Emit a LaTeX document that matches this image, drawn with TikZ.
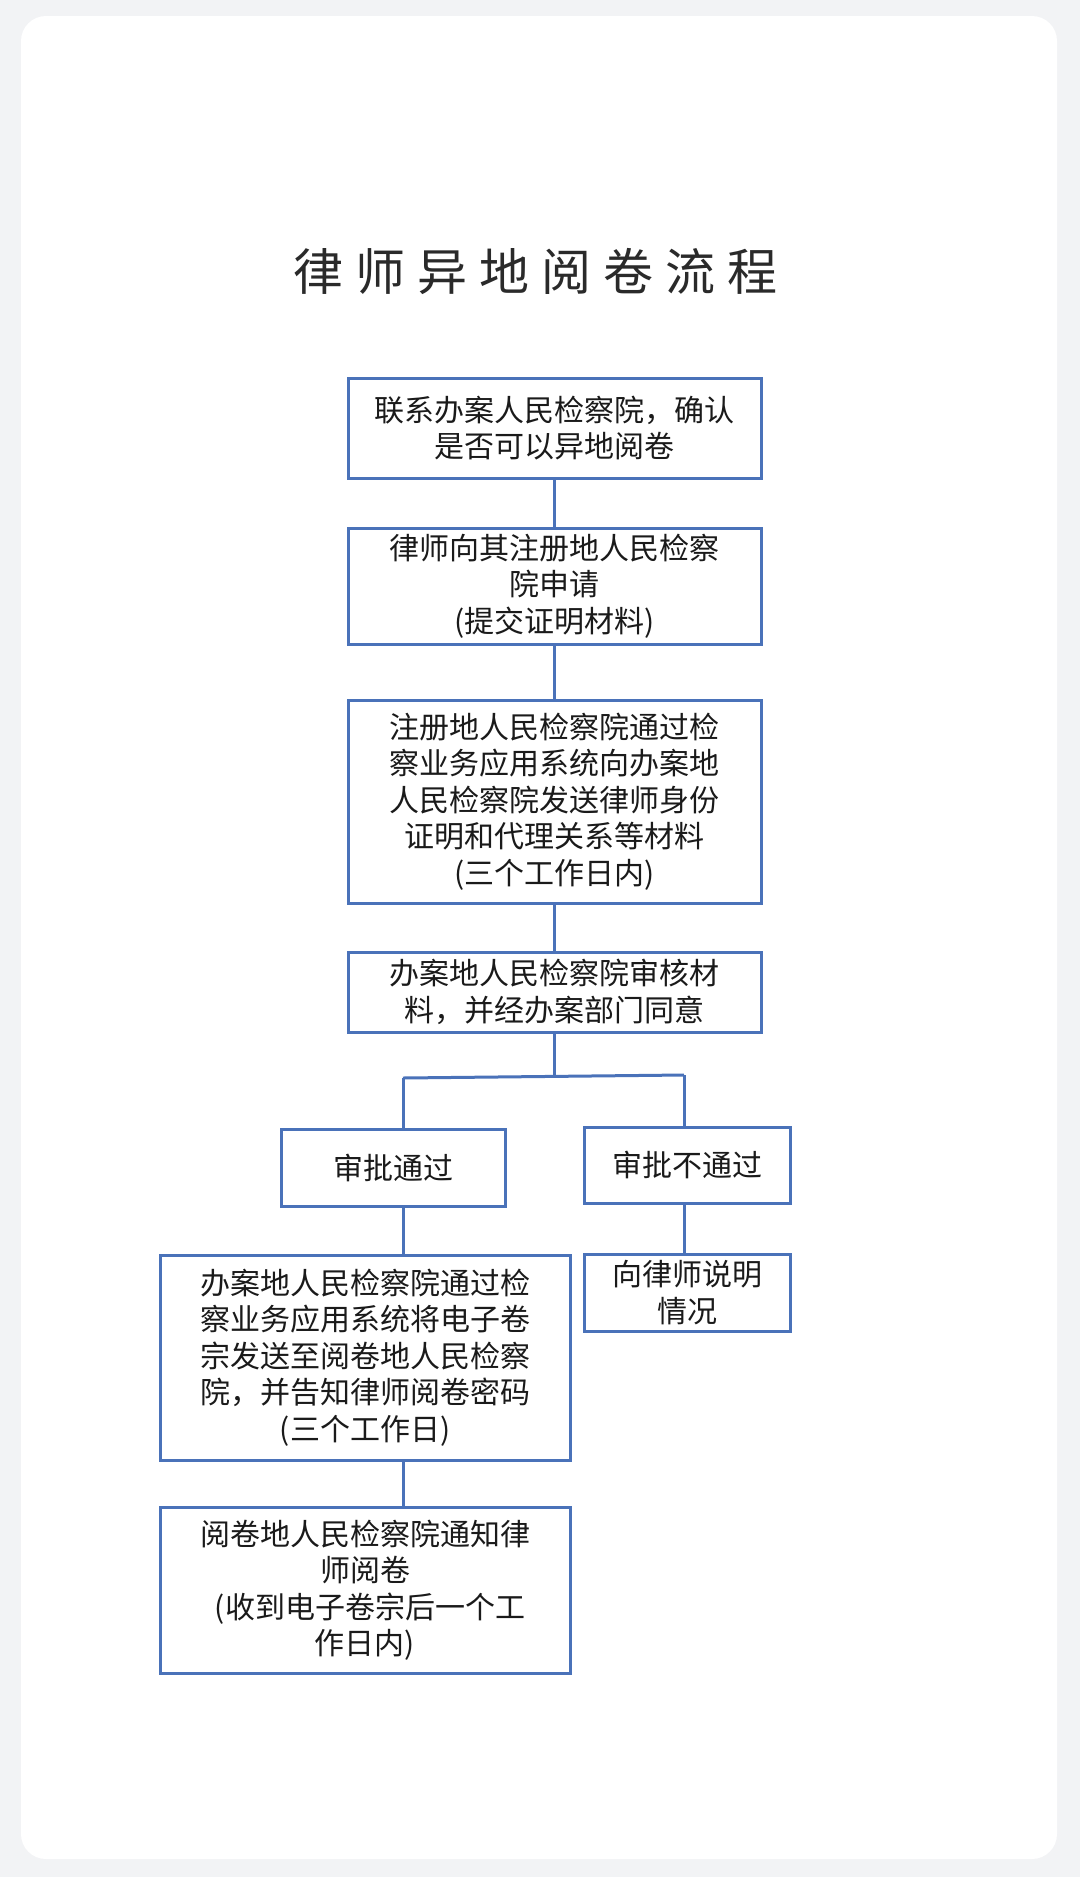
\documentclass[tikz,border=0pt]{standalone}
\usepackage{fontspec}
\setmainfont{Noto Sans CJK SC}
\newfontfamily\cjkfont{Noto Sans CJK SC}
\definecolor{bggray}{HTML}{F2F3F5}
\definecolor{boxblue}{RGB}{74,114,185}
\definecolor{textdark}{HTML}{1A1A1A}
\definecolor{titledark}{HTML}{2A2A2A}
\tikzset{
  flowbox/.style={draw=boxblue, line width=3pt, fill=white, inner sep=0pt, align=center,
    font=\cjkfont\fontsize{30}{36.5}\selectfont, text=textdark},
  link/.style={draw=boxblue, line width=3pt}
}
\begin{document}
\begin{tikzpicture}[x=1pt,y=-1pt]
\useasboundingbox (0,0) rectangle (1080,1877);
\fill[bggray] (0,0) rectangle (1080,1877);
\fill[white, rounded corners=25pt] (21,16) rectangle (1057,1859);

\node[font=\cjkfont\fontsize{50}{60}\selectfont, text=titledark, inner sep=0pt] (title) at (535,271)
  {律\hspace{12pt}师\hspace{12pt}异\hspace{12pt}地\hspace{12pt}阅\hspace{12pt}卷\hspace{12pt}流\hspace{12pt}程};

\node[flowbox, minimum width=413pt, minimum height=100pt] (b1) at (554.5,428)
  {联系办案人民检察院，确认\\是否可以异地阅卷};
\node[flowbox, minimum width=413pt, minimum height=116pt] (b2) at (554.5,586)
  {律师向其注册地人民检察\\院申请\\(提交证明材料)};
\node[flowbox, minimum width=413pt, minimum height=203pt] (b3) at (554.5,801.5)
  {注册地人民检察院通过检\\察业务应用系统向办案地\\人民检察院发送律师身份\\证明和代理关系等材料\\(三个工作日内)};
\node[flowbox, minimum width=413pt, minimum height=80pt] (b4) at (554.5,992)
  {办案地人民检察院审核材\\料，并经办案部门同意};
\node[flowbox, minimum width=224pt, minimum height=77pt] (b5) at (393,1167.5)
  {审批通过};
\node[flowbox, minimum width=206pt, minimum height=76pt] (b6) at (687,1165)
  {审批不通过};
\node[flowbox, minimum width=410pt, minimum height=205pt] (b7) at (365,1357.5)
  {办案地人民检察院通过检\\察业务应用系统将电子卷\\宗发送至阅卷地人民检察\\院，并告知律师阅卷密码\\(三个工作日)};
\node[flowbox, minimum width=206pt, minimum height=77pt] (b8) at (687,1292.5)
  {向律师说明\\情况};
\node[flowbox, minimum width=410pt, minimum height=166pt] (b9) at (365,1590)
  {阅卷地人民检察院通知律\\师阅卷\\\hspace{10pt}(收到电子卷宗后一个工\\作日内)};

\coordinate (br) at (554.5,1077);
\coordinate (brl) at (403,1078);
\coordinate (brr) at (684,1075);

\draw[link] (b1.south) -- (b2.north);
\draw[link] (b2.south) -- (b3.north);
\draw[link] (b3.south) -- (b4.north);
\draw[link] (b4.south) -- (br);
\draw[link] (brl) -- (brr);
\draw[link] (brl) -- (brl |- b5.north);
\draw[link] (brr) -- (brr |- b6.north);
\draw[link] (b5.south -| brl) -- (b7.north -| brl);
\draw[link] (b6.south -| brr) -- (b8.north -| brr);
\draw[link] (b7.south -| brl) -- (b9.north -| brl);
\end{tikzpicture}
\end{document}
